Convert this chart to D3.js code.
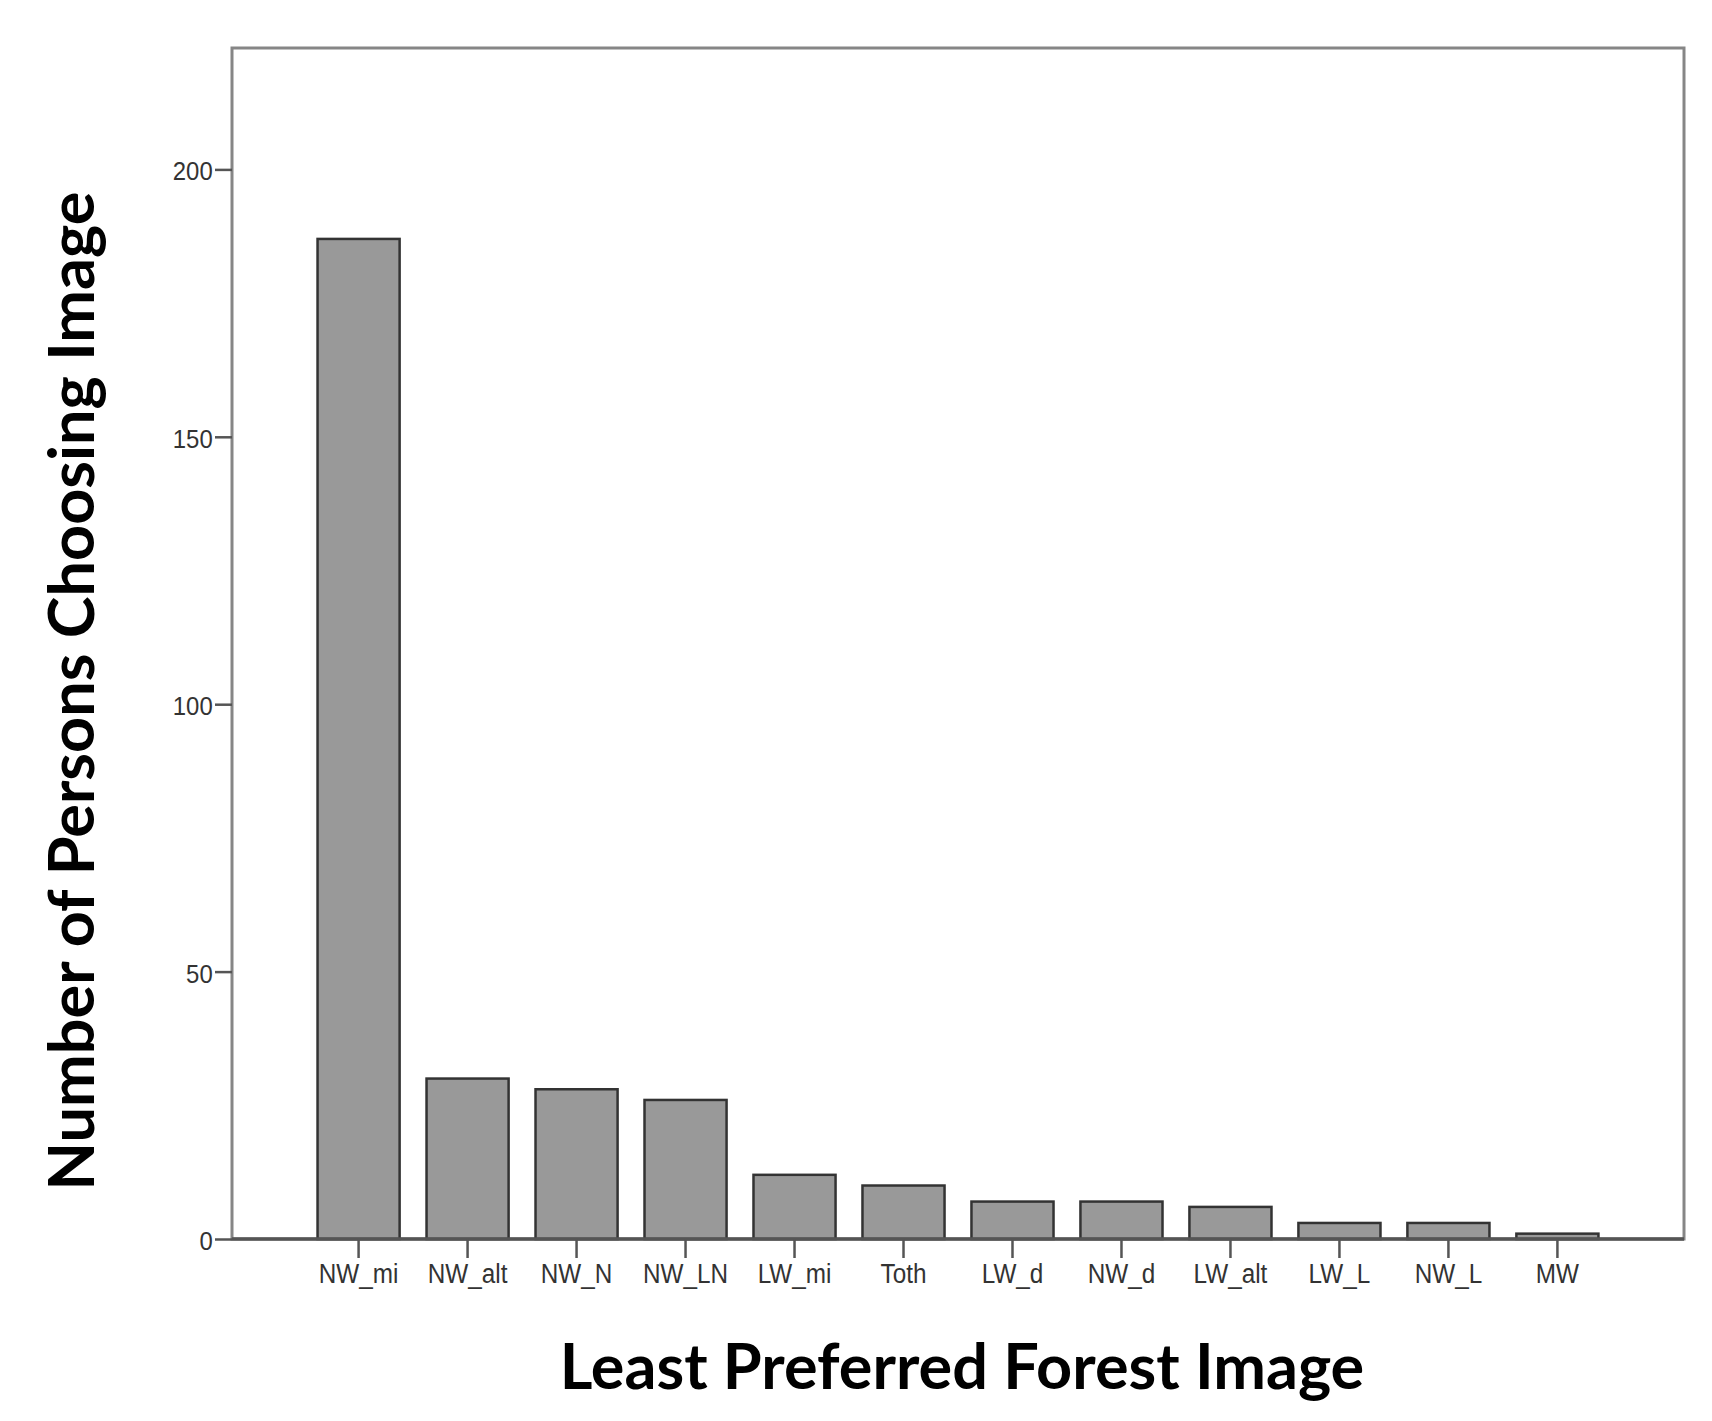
<!DOCTYPE html>
<html><head><meta charset="utf-8">
<script src="https://cdn.jsdelivr.net/npm/d3@7"></script>
<style>
html,body{margin:0;padding:0;background:#fff;}
svg{display:block;}
</style></head>
<body>
<svg id="chart" width="1712" height="1421"></svg>
<script>
const categories = ["NW_mi","NW_alt","NW_N","NW_LN","LW_mi","Toth","LW_d","NW_d","LW_alt","LW_L","NW_L","MW"];
const counts = [187,30,28,26,12,10,7,7,6,3,3,1];
const yTicks = [0,50,100,150,200];
const xTitle = "Least Preferred Forest Image";
const yTitle = "Number of Persons Choosing Image";

const svg = d3.select("#chart");
const L = 232, T = 48, R = 1684, B = 1239;

const x = d3.scaleBand().domain(categories).range([L, R]).paddingInner(0.247).paddingOuter(0.785);
const y = d3.scaleLinear().domain([0, 222.7]).range([B, T]);

// frame
svg.append("rect").attr("x", L).attr("y", T).attr("width", R - L).attr("height", B - T)
  .attr("fill", "none").attr("stroke", "#868686").attr("stroke-width", 3);

// bars
svg.append("g").selectAll("rect").data(categories).join("rect")
  .attr("x", d => x(d))
  .attr("y", (d, i) => y(counts[i]))
  .attr("width", x.bandwidth())
  .attr("height", (d, i) => B - y(counts[i]))
  .attr("fill", "#999999")
  .attr("stroke", "#333333")
  .attr("stroke-width", 2.5);

// bottom axis line (darker)
svg.append("line").attr("x1", L).attr("x2", R).attr("y1", B).attr("y2", B)
  .attr("stroke", "#555").attr("stroke-width", 3.5);

// y axis
const yAxis = d3.axisLeft(y).tickValues(yTicks).tickSize(17).tickPadding(4).tickFormat(d3.format("d"));
const gy = svg.append("g").attr("transform", `translate(${L},0)`).call(yAxis);
gy.select(".domain").remove();
gy.selectAll(".tick line").attr("stroke", "#555").attr("stroke-width", 2.5);
gy.selectAll(".tick text").attr("fill", "#333").attr("dy", "0.4em")
  .style("font-family", "'Liberation Sans', Arial, sans-serif").style("font-size", "26px")
  .attr("transform", "scale(0.92,1)");

// x axis
const xAxis = d3.axisBottom(x).tickSize(19).tickPadding(6);
const gx = svg.append("g").attr("transform", `translate(0,${B})`).call(xAxis);
gx.select(".domain").remove();
gx.selectAll(".tick line").attr("stroke", "#555").attr("stroke-width", 2.5);
gx.selectAll(".tick text").attr("fill", "#333")
  .style("font-family", "'Liberation Sans', Arial, sans-serif").style("font-size", "27px")
  .attr("transform", "scale(0.9,1)");

// titles
svg.append("text").attr("x", 962).attr("y", 1389).attr("text-anchor", "middle")
  .style("font-family", "Lato, 'Open Sans', sans-serif").style("font-weight", "bold").style("font-size", "63px")
  .attr("fill", "#000").text(xTitle);

svg.append("text").attr("transform", `translate(94,${691}) rotate(-90)`).attr("text-anchor", "middle")
  .style("font-family", "Lato, 'Open Sans', sans-serif").style("font-weight", "bold").style("font-size", "63px")
  .attr("fill", "#000").text(yTitle);
</script>
</body></html>
